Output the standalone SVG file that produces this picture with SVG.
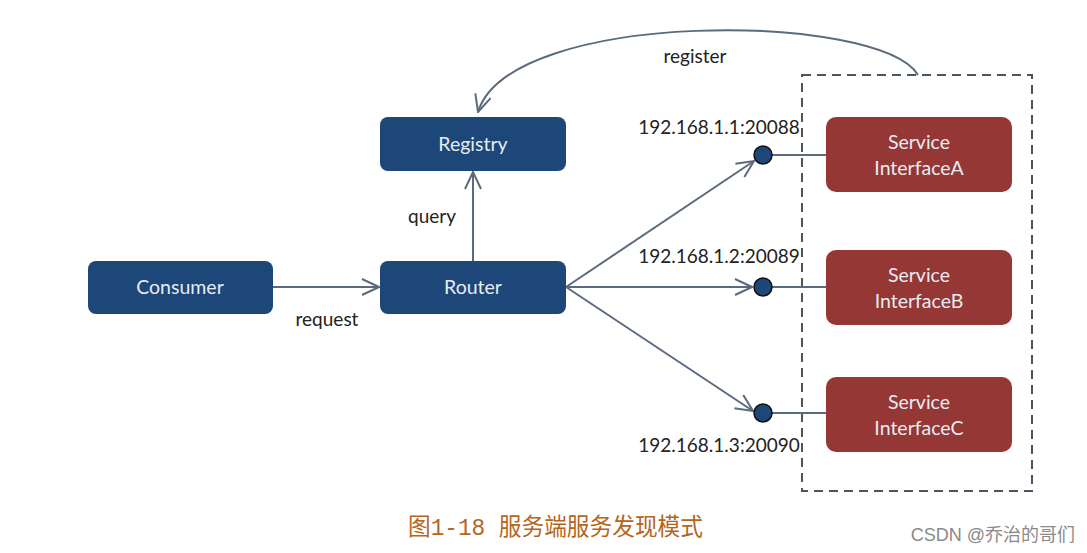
<svg xmlns="http://www.w3.org/2000/svg" width="1087" height="553" viewBox="0 0 1087 553">
<defs>
<marker id="ah2" viewBox="0 0 20 20" refX="19" refY="10" markerWidth="20" markerHeight="20" markerUnits="userSpaceOnUse" orient="auto">
<path d="M2,2 L19,10 L2,18" fill="none" stroke="#5b6b7d" stroke-width="2"/>
</marker>
</defs>
<style>
.blue{fill:#1d4679;}
.red{fill:#953735;}
.nt{font-family:Lato,"Open Sans",sans-serif;font-size:19.5px;fill:#e6ecf3;text-anchor:middle;}
.lbl{font-family:Lato,"Open Sans",sans-serif;font-size:19px;fill:#222;text-anchor:middle;}
.ln{fill:none;stroke:#5b6b7d;stroke-width:2;}
.dot{fill:#1d4679;stroke:#111;stroke-width:1.5;}
</style>
<rect width="1087" height="553" fill="#fff"/>
<g id="services-box">
<rect x="802" y="75" width="230" height="416" fill="none" stroke="#4a5563" stroke-width="2" stroke-dasharray="9,6"/>
</g>
<g id="connectors">
<path class="ln" d="M918,75 C880,12 510,8 478,112" marker-end="url(#ah2)"/>
<line class="ln" x1="273" y1="287" x2="379" y2="287" marker-end="url(#ah2)"/>
<line class="ln" x1="473" y1="261" x2="473" y2="172" marker-end="url(#ah2)"/>
<line class="ln" x1="566" y1="287" x2="754" y2="161" marker-end="url(#ah2)"/>
<line class="ln" x1="566" y1="287" x2="752" y2="287" marker-end="url(#ah2)"/>
<line class="ln" x1="566" y1="287" x2="753" y2="411" marker-end="url(#ah2)"/>
<line class="ln" x1="772" y1="155" x2="826" y2="155"/>
<line class="ln" x1="772" y1="287" x2="826" y2="287"/>
<line class="ln" x1="772" y1="413" x2="826" y2="413"/>
<text class="lbl" x="695" y="63">register</text>
<text class="lbl" x="432" y="223">query</text>
<text class="lbl" x="327" y="326">request</text>
</g>
<g id="consumer">
<rect class="blue" x="88" y="261" width="185" height="53" rx="8"/>
<text class="nt" x="180" y="294">Consumer</text>
</g>
<g id="router">
<rect class="blue" x="380" y="261" width="186" height="53" rx="8"/>
<text class="nt" x="473" y="294">Router</text>
</g>
<g id="registry">
<rect class="blue" x="380" y="117" width="186" height="54" rx="8"/>
<text class="nt" x="473" y="151">Registry</text>
</g>
<g id="endpoint-a">
<circle class="dot" cx="763" cy="155" r="9"/>
<text class="lbl" x="719" y="134">192.168.1.1:20088</text>
</g>
<g id="endpoint-b">
<circle class="dot" cx="763" cy="287" r="9"/>
<text class="lbl" x="719" y="263">192.168.1.2:20089</text>
</g>
<g id="endpoint-c">
<circle class="dot" cx="763" cy="413" r="9"/>
<text class="lbl" x="719" y="452">192.168.1.3:20090</text>
</g>
<g id="service-a">
<rect class="red" x="826" y="117" width="186" height="75" rx="10"/>
<text class="nt" x="919" y="149">Service</text>
<text class="nt" x="919" y="175">InterfaceA</text>
</g>
<g id="service-b">
<rect class="red" x="826" y="250" width="186" height="75" rx="10"/>
<text class="nt" x="919" y="282">Service</text>
<text class="nt" x="919" y="308">InterfaceB</text>
</g>
<g id="service-c">
<rect class="red" x="826" y="377" width="186" height="75" rx="10"/>
<text class="nt" x="919" y="409">Service</text>
<text class="nt" x="919" y="435">InterfaceC</text>
</g>
<g id="caption">
<text x="408" y="535" font-family="'Liberation Mono','Noto Sans CJK SC',monospace" font-size="24" fill="#b5651d" textLength="295" lengthAdjust="spacingAndGlyphs">图1-18 服务端服务发现模式</text>
<text x="1075" y="541" text-anchor="end" font-family="'Liberation Sans','Noto Sans CJK SC',sans-serif" font-size="18" fill="#8a8a8a">CSDN @乔治的哥们</text>
</g>
</svg>
